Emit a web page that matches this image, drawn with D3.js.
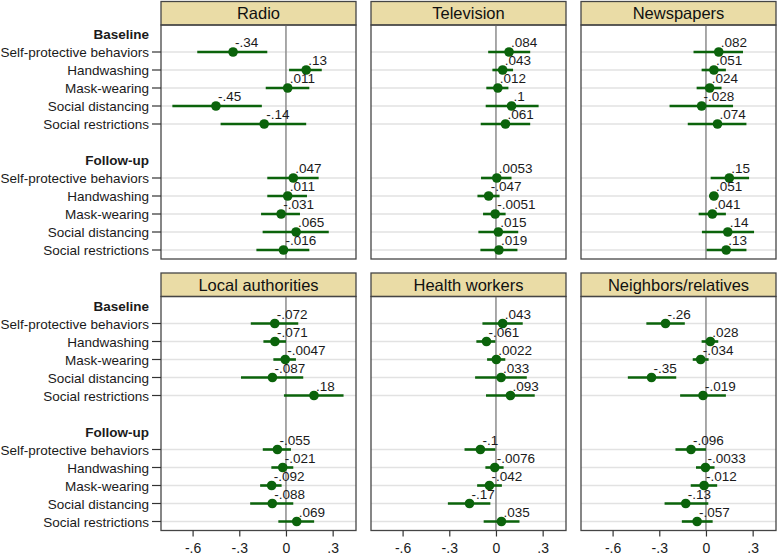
<!DOCTYPE html>
<html>
<head>
<meta charset="utf-8">
<script src="https://cdn.jsdelivr.net/npm/d3@7"></script>
<style>
  body { margin: 0; background: #fff; }
  text { font-family: "Liberation Sans", Arial, sans-serif; }
</style>
</head>
<body>
<svg></svg>
<script>
// categories
var panels = ["Radio", "Television", "Newspapers", "Local authorities", "Health workers", "Neighbors/relatives"];
var waves = ["Baseline", "Follow-up"];
var outcomes = ["Self-protective behaviors", "Handwashing", "Mask-wearing", "Social distancing", "Social restrictions"];
var xTicks = [-0.6, -0.3, 0, 0.3];

// estimates (baseline x5, follow-up x5) and confidence bounds
var radioEst = [-.34, .13, .011, -.45, -.14, .047, .011, -.031, .065, -.016];
var radioLo  = [-.57, .02, -.13, -.73, -.42, -.12, -.12, -.16, -.15, -.19];
var radioHi  = [-.12, .23, .15, -.155, .13, .21, .135, .09, .275, .15];

var tvEst = [.084, .043, .012, .1, .061, .0053, -.047, -.0051, .015, .019];
var tvLo  = [-.05, -.023, -.062, -.066, -.098, -.096, -.119, -.083, -.113, -.1];
var tvHi  = [.22, .11, .08, .274, .22, .1, .023, .062, .143, .138];

var newsEst = [.082, .051, .024, -.028, .074, .15, .051, .041, .14, .13];
var newsLo  = [-.08, -.028, -.06, -.234, -.117, .03, .02, -.047, -.026, .004];
var newsHi  = [.238, .128, .1, .174, .26, .277, .08, .128, .309, .26];

var localEst = [-.072, -.071, -.0047, -.087, .18, -.055, -.021, -.092, -.088, .069];
var localLo  = [-.226, -.145, -.081, -.289, -.013, -.149, -.094, -.166, -.23, -.049];
var localHi  = [.079, 0, .064, .111, .37, .032, .047, -.028, .047, .181];

var healthEst = [.043, -.061, .0022, .033, .093, -.1, -.0076, -.042, -.17, .035];
var healthLo  = [-.087, -.126, -.057, -.134, -.064, -.202, -.068, -.121, -.309, -.079];
var healthHi  = [.172, -.004, .06, .198, .249, -.004, .049, .038, -.036, .151];

var neighEst = [-.26, .028, -.034, -.35, -.019, -.096, -.0033, -.012, -.13, -.057];
var neighLo  = [-.383, -.028, -.085, -.502, -.166, -.196, -.064, -.098, -.266, -.155];
var neighHi  = [-.136, .079, .017, -.191, .128, 0, .055, .072, .015, .043];

var estimates = [radioEst, tvEst, newsEst, localEst, healthEst, neighEst];
var lowers = [radioLo, tvLo, newsLo, localLo, healthLo, neighLo];
var uppers = [radioHi, tvHi, newsHi, localHi, healthHi, neighHi];

var drawGraph = function() {
  var screen = { width: 777, height: 556 };
  var panelLefts = [161, 371, 581];
  var panelTops = [1.5, 273];
  var panelWidth = 195;
  var stripHeight = 23.5;
  var plotHeight = 234;

  var green = "#0b630b";

  var svg = d3.select("svg")
    .attr("width", screen.width)
    .attr("height", screen.height);

  // one slot per row, headers included, with a blank slot between waves
  var slots = [];
  waves.forEach(function(w, wi) {
    if (wi > 0) slots.push({ key: "gap" + wi, kind: "gap" });
    slots.push({ key: w, kind: "header", label: w });
    outcomes.forEach(function(o, oi) {
      slots.push({ key: w + "|" + o, kind: "row", label: o, idx: wi * outcomes.length + oi });
    });
  });

  var xScale = d3.scaleLinear()
    .domain([-0.803, 0.45])
    .range([0, panelWidth]);

  var yScale = d3.scalePoint()
    .domain(slots.map(function(s) { return s.key; }))
    .range([0, plotHeight])
    .padding(0.5);

  var fmt = function(v) {
    var s = d3.format(".2~g")(Math.abs(v)).replace(/^0\./, ".");
    return (v < 0 ? "-" : "") + s;
  };

  var rows = slots.filter(function(s) { return s.kind === "row"; });

  panels.forEach(function(name, p) {
    var col = p % 3;
    var rowIdx = Math.floor(p / 3);
    var left = panelLefts[col];
    var top = panelTops[rowIdx];

    var strip = svg.append("g")
      .attr("transform", "translate(" + left + "," + top + ")");
    strip.append("rect")
      .attr("width", panelWidth)
      .attr("height", stripHeight)
      .attr("fill", "#eadca6")
      .attr("stroke", "#454545")
      .attr("stroke-width", 1.3);
    strip.append("text")
      .attr("x", panelWidth / 2)
      .attr("y", stripHeight / 2 + 6)
      .attr("text-anchor", "middle")
      .attr("font-size", 16.5)
      .attr("fill", "#111")
      .text(name);

    var plot = svg.append("g")
      .classed("plot", true)
      .attr("transform", "translate(" + left + "," + (top + stripHeight) + ")");

    // gridlines
    plot.selectAll("line.grid")
      .data(rows)
      .enter()
      .append("line")
      .classed("grid", true)
      .attr("x1", 0)
      .attr("x2", panelWidth)
      .attr("y1", function(d) { return yScale(d.key); })
      .attr("y2", function(d) { return yScale(d.key); })
      .attr("stroke", "#e2e2e2")
      .attr("stroke-width", 1.5);

    // zero reference
    plot.append("line")
      .attr("x1", xScale(0))
      .attr("x2", xScale(0))
      .attr("y1", 0)
      .attr("y2", plotHeight)
      .attr("stroke", "#8c8c8c")
      .attr("stroke-width", 1.5);

    var pts = rows.map(function(r) {
      return {
        key: r.key,
        est: estimates[p][r.idx],
        lo: lowers[p][r.idx],
        hi: uppers[p][r.idx]
      };
    });

    plot.selectAll("line.ci")
      .data(pts)
      .enter()
      .append("line")
      .classed("ci", true)
      .attr("x1", function(d) { return xScale(d.lo); })
      .attr("x2", function(d) { return xScale(d.hi); })
      .attr("y1", function(d) { return yScale(d.key); })
      .attr("y2", function(d) { return yScale(d.key); })
      .attr("stroke", green)
      .attr("stroke-width", 2.6);

    plot.selectAll("circle")
      .data(pts)
      .enter()
      .append("circle")
      .attr("cx", function(d) { return xScale(d.est); })
      .attr("cy", function(d) { return yScale(d.key); })
      .attr("r", 4.8)
      .attr("fill", green);

    plot.selectAll("text.val")
      .data(pts)
      .enter()
      .append("text")
      .classed("val", true)
      .attr("x", function(d) { return xScale(d.est) + 2; })
      .attr("y", function(d) { return yScale(d.key) - 5; })
      .attr("font-size", 13.5)
      .attr("fill", "#1a1a1a")
      .text(function(d) { return fmt(d.est); });

    // frame
    plot.append("rect")
      .attr("width", panelWidth)
      .attr("height", plotHeight)
      .attr("fill", "none")
      .attr("stroke", "#454545")
      .attr("stroke-width", 1.3);

    // y labels on the left column
    if (col === 0) {
      var yl = plot.selectAll("g.ylab")
        .data(slots.filter(function(s) { return s.kind !== "gap"; }))
        .enter()
        .append("g")
        .classed("ylab", true)
        .attr("transform", function(d) { return "translate(0," + yScale(d.key) + ")"; });
      yl.filter(function(d) { return d.kind === "row"; })
        .append("line")
        .attr("x1", -9)
        .attr("x2", 0)
        .attr("stroke", "#333")
        .attr("stroke-width", 1.2);
      yl.append("text")
        .attr("x", -12)
        .attr("y", 5)
        .attr("text-anchor", "end")
        .attr("font-size", 13.5)
        .attr("font-weight", function(d) { return d.kind === "header" ? "bold" : "normal"; })
        .attr("fill", "#1a1a1a")
        .text(function(d) { return d.label; });
    }

    // x axis on the bottom row
    if (rowIdx === 1) {
      var xAxis = d3.axisBottom(xScale)
        .tickValues(xTicks)
        .tickSize(6)
        .tickPadding(7)
        .tickFormat(fmt);
      var ax = plot.append("g")
        .attr("transform", "translate(0," + plotHeight + ")")
        .call(xAxis);
      ax.select(".domain").remove();
      ax.selectAll("line").attr("stroke", "#333").attr("stroke-width", 1.2);
      ax.selectAll("text")
        .attr("font-size", 14)
        .attr("fill", "#1a1a1a")
        .style("font-family", "'Liberation Sans', Arial, sans-serif");
    }
  });
};

drawGraph();
</script>
</body>
</html>
